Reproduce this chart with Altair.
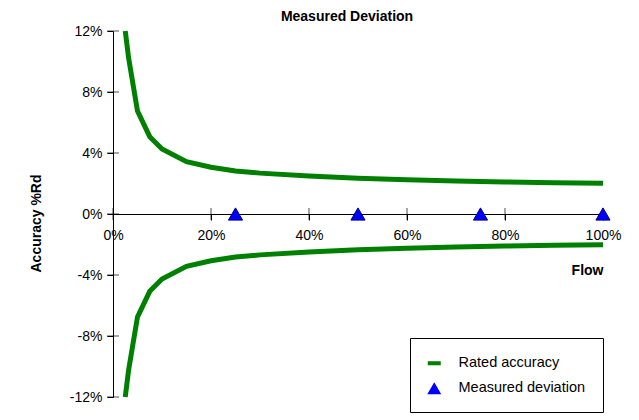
import altair as alt
import pandas as pd

# Rated accuracy envelope (upper branch, % of reading) vs flow (%)
flow = [2.5, 3.2, 5, 7.5, 10, 15, 20, 25, 30, 40, 50, 60, 70, 80, 90, 100]
rated = [12.0, 10.2, 6.75, 5.07, 4.26, 3.43, 3.07, 2.82, 2.68, 2.49, 2.34, 2.24, 2.16, 2.1, 2.05, 2.02]

# Measured deviation points
meas_flow = [25, 50, 75, 100]
meas_dev = [0, 0, 0, 0]

x_ticks = [0, 20, 40, 60, 80, 100]
y_ticks = [-12, -8, -4, 0, 4, 8, 12]
series = ["Rated accuracy", "Measured deviation"]
colors = ["#008000", "#0000ff"]

n = len(flow)
line_df = pd.DataFrame({
    "flow": flow + flow,
    "acc": rated + [-v for v in rated],
    "side": ["upper"] * n + ["lower"] * n,
})
pts_df = pd.DataFrame({"flow": meas_flow, "acc": meas_dev, "series": [series[1]] * len(meas_flow)})
xt_df = pd.DataFrame({"flow": x_ticks})
yt_df = pd.DataFrame({"acc": y_ticks})

W, H = 490, 366

x_scale = alt.Scale(domain=[0, 100], nice=False, zero=False)
y_scale = alt.Scale(domain=[-12, 12], nice=False, zero=False)

x_axis = alt.Axis(
    values=x_ticks, labelExpr="datum.value + '%'", title="Flow",
    offset=-H / 2, grid=False, tickSize=6, tickColor="black", domainColor="black",
    labelFontSize=14, labelColor="black", labelPadding=8, labelFlush=False, labelOverlap=False,
    titleFontSize=14, titleFontWeight="bold", titleColor="black",
    titleX=W, titleY=56, titleAlign="right", titleBaseline="middle", titleAnchor="end",
)
y_axis = alt.Axis(
    values=y_ticks, labelExpr="datum.value + '%'", title="Accuracy %Rd",
    grid=False, tickSize=6, tickColor="black", domainColor="black",
    labelFontSize=14, labelColor="black", labelPadding=5, labelFlush=False, labelOverlap=False,
    titleFontSize=14, titleFontWeight="bold", titleColor="black",
    titleX=-77, titleY=192, titleAngle=-90, titleAlign="center", titleBaseline="middle",
)

rect_path = "M-0.93,-0.29L0.93,-0.29L0.93,0.29L-0.93,0.29Z"

legend = alt.Legend(
    title=" ", titleFontSize=1, titlePadding=0,
    orient="none", legendX=297, legendY=307, padding=17,
    strokeColor="black", fillColor="white", labelFontSize=14.5, labelColor="black",
    symbolSize=196, rowPadding=10, labelOffset=17, symbolStrokeWidth=0,
)

lines = alt.Chart(line_df).mark_line(color="#008000", strokeWidth=5).encode(
    x=alt.X("flow:Q", scale=x_scale, axis=x_axis),
    y=alt.Y("acc:Q", scale=y_scale, axis=y_axis),
    detail="side:N",
)

xticks = alt.Chart(xt_df).mark_tick(orient="vertical", size=12, thickness=1, color="black").encode(
    x=alt.X("flow:Q", scale=x_scale, axis=x_axis),
    y=alt.YDatum(0, type="quantitative", scale=y_scale, axis=y_axis),
)
yticks = alt.Chart(yt_df).mark_tick(orient="horizontal", size=12, thickness=1, color="black").encode(
    x=alt.XDatum(0, type="quantitative", scale=x_scale, axis=x_axis),
    y=alt.Y("acc:Q", scale=y_scale, axis=y_axis),
)

points = alt.Chart(pts_df).mark_point(
    filled=True, size=200, opacity=1, stroke="#000080", strokeWidth=1
).encode(
    x=alt.X("flow:Q", scale=x_scale, axis=x_axis),
    y=alt.Y("acc:Q", scale=y_scale, axis=y_axis),
    color=alt.Color("series:N", scale=alt.Scale(domain=series, range=colors), legend=legend),
    shape=alt.Shape("series:N", scale=alt.Scale(domain=series, range=[rect_path, "triangle-up"]), legend=legend),
)

chart = alt.layer(lines, xticks, yticks, points).properties(
    width=W, height=H,
    title=alt.TitleParams("Measured Deviation", fontSize=14, fontWeight="bold", anchor="middle",
                          dx=-11, offset=-3, color="black"),
    autosize=alt.AutoSizeParams(type="none"),
    padding={"left": 105, "top": 23, "right": 20, "bottom": 22},
).configure(font="Liberation Sans").configure_view(stroke=None)

chart.save("out.html", embed_options={"renderer": "svg", "actions": False})
